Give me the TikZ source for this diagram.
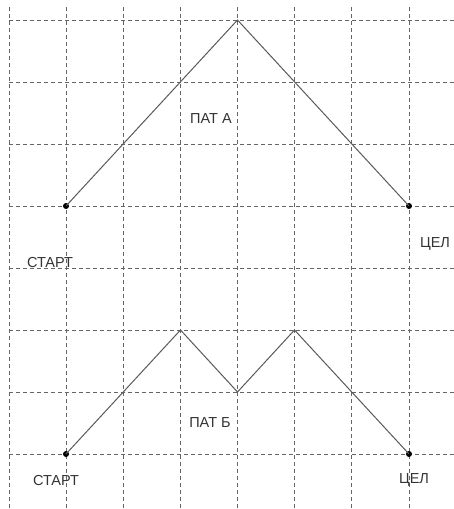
\documentclass[tikz,border=0pt]{standalone}
\usepackage{fontspec}
\setmainfont{Liberation Sans}
\begin{document}
\begin{tikzpicture}[x=1pt,y=-1pt,
  gridline/.style={draw=black!60, line width=0.9pt, dash pattern=on 4pt off 3pt},
  route/.style={draw=black!65, line width=1pt},
  endpoint/.style={circle, fill=black, inner sep=0pt, minimum size=6pt},
  lbl/.style={font=\fontsize{14.5}{14.5}\selectfont, text=black!80, inner sep=0pt}]
\useasboundingbox (0,0) rectangle (454,509);
% dashed grid
\foreach \i in {0,...,7}
  \draw[gridline] ({9+57.14*\i},7) -- ({9+57.14*\i},509);
\foreach \j in {0,...,7}
  \draw[gridline] (9,{20+62*\j}) -- (454,{20+62*\j});
% route A
\node[endpoint] (a1) at (66,206) {};
\coordinate (a2) at (237.5,20);
\node[endpoint] (a3) at (409,206) {};
\draw[route] (a1.center) -- (a2) -- (a3.center);
% route B
\node[endpoint] (b1) at (66,454) {};
\coordinate (b2) at (180.5,330);
\coordinate (b3) at (237.5,392);
\coordinate (b4) at (294.5,330);
\node[endpoint] (b5) at (409,454) {};
\draw[route] (b1.center) -- (b2) -- (b3) -- (b4) -- (b5.center);
% labels
\node[lbl] (ta) at (211,119) {ПАТ А};
\node[lbl] (sa) at (50,263) {СТАРТ};
\node[lbl] (ga) at (435,244) {ЦЕЛ};
\node[lbl] (tb) at (210,423) {ПАТ Б};
\node[lbl] (sb) at (56,481) {СТАРТ};
\node[lbl] (gb) at (414,480) {ЦЕЛ};
\end{tikzpicture}
\end{document}
